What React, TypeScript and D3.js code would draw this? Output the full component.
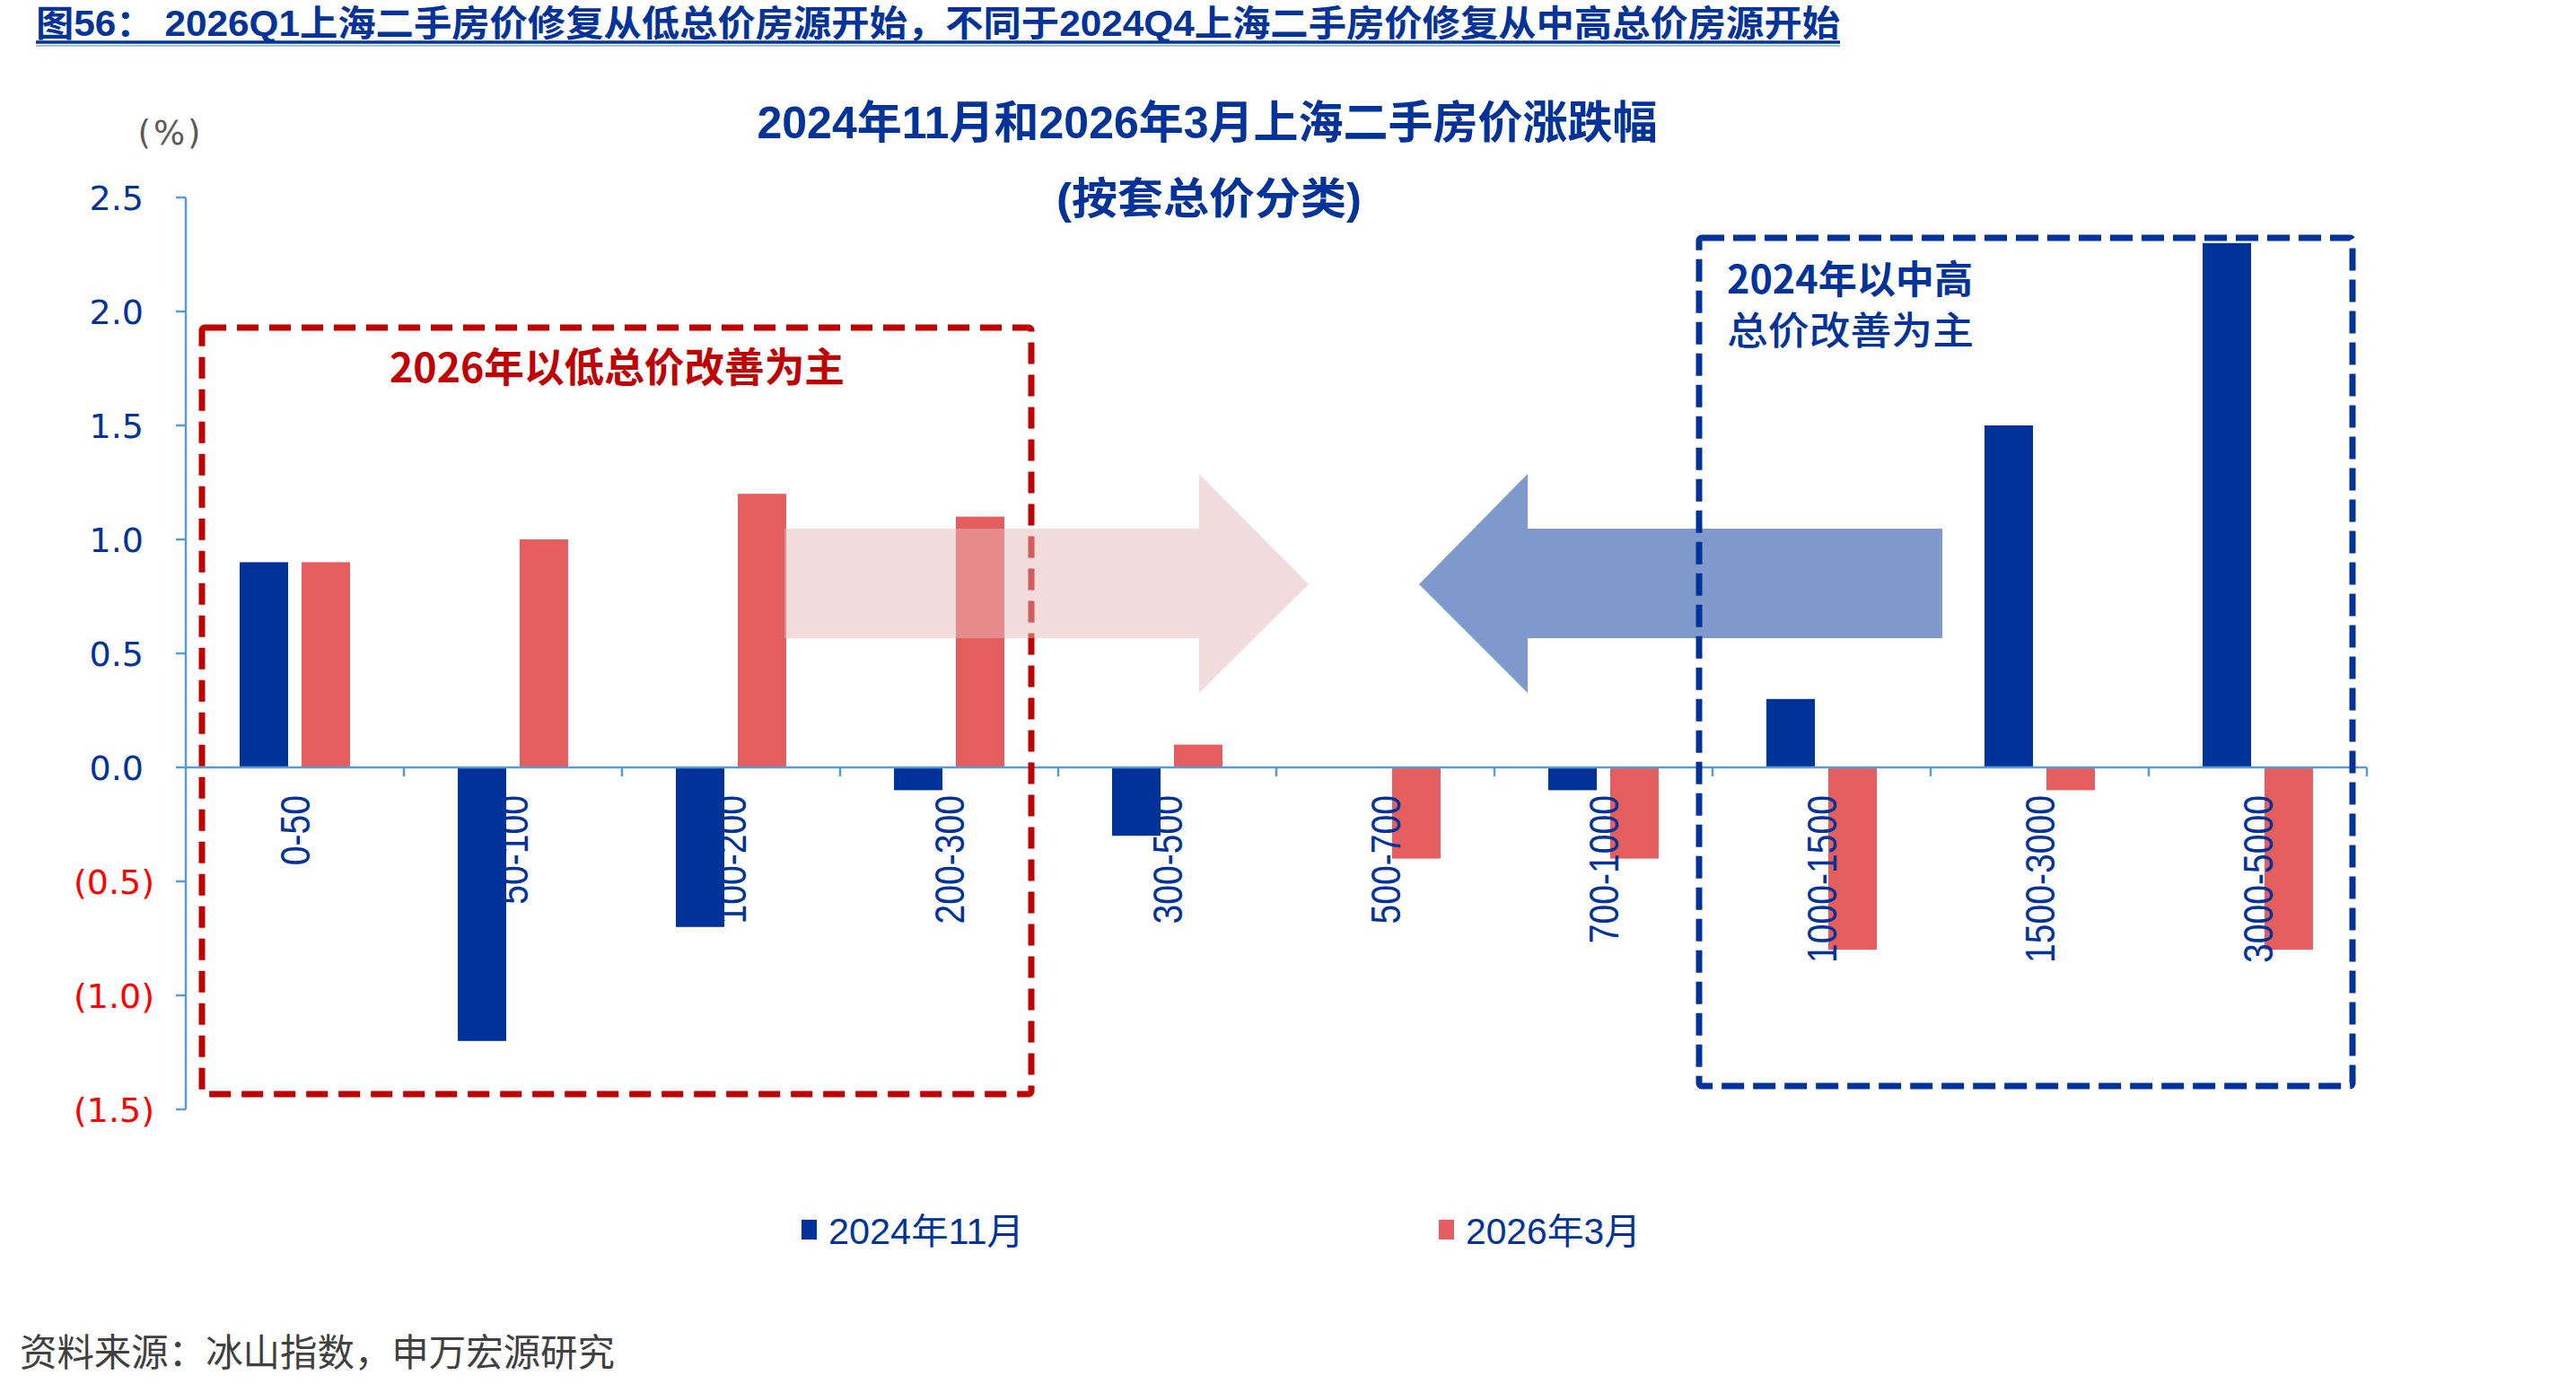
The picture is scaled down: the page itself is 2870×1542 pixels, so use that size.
import * as d3 from "d3";
import React from "react";

const categories = ["0-50", "50-100", "100-200", "200-300", "300-500", "500-700", "700-1000", "1000-1500", "1500-3000", "3000-5000"];
const series = ["2024年11月", "2026年3月"];
const nov2024 = [0.9, -1.2, -0.7, -0.1, -0.3, 0, -0.1, 0.3, 1.5, 2.3];
const mar2026 = [0.9, 1.0, 1.2, 1.1, 0.1, -0.4, -0.4, -0.8, -0.1, -0.8];
const yTicks = [2.5, 2.0, 1.5, 1.0, 0.5, 0.0, -0.5, -1.0, -1.5];

const BLUE = "#003399";
const RED = "#E55E5F";
const AXIS = "#5B9BD5";
const CJK = "'Liberation Sans', 'Noto Sans CJK SC', sans-serif";

export default function App() {
  const W = 2870;
  const H = 1542;

  // scales
  const x0 = d3.scaleBand<string>().domain(categories).range([207, 2637]).padding(0);
  const bw = x0.bandwidth();
  const x1 = d3
    .scaleBand<string>()
    .domain(series)
    .range([bw * 0.247, bw * 0.753])
    .paddingInner(0.2174);
  const y = d3.scaleLinear().domain([-1.5, 2.5]).range([1236, 220]);
  const fmt = d3.format(".1f");

  const values = [nov2024, mar2026];
  const colors = [BLUE, RED];

  const bars = categories.flatMap((c, i) =>
    series.map((s, j) => {
      const v = values[j][i];
      return { c, s, v, color: colors[j] };
    })
  );

  return (
    <svg width={W} height={H} style={{ position: "absolute", left: 0, top: 0, background: "#fff" }}>
      {/* header */}
      <text x={40} y={40} fontFamily={CJK} fontWeight="bold" fontSize={40} fill={BLUE} textLength={2010} lengthAdjust="spacingAndGlyphs">
        图56：  2026Q1上海二手房价修复从低总价房源开始，不同于2024Q4上海二手房价修复从中高总价房源开始
      </text>
      <line x1={40} x2={2050} y1={47} y2={47} stroke={BLUE} strokeWidth={3.5} />
      <line x1={40} x2={2050} y1={51} y2={51} stroke={BLUE} strokeOpacity={0.45} strokeWidth={1.5} />

      {/* chart title */}
      <text x={1345} y={154} textAnchor="middle" fontFamily={CJK} fontWeight="bold" fontSize={50} fill={BLUE} textLength={1003} lengthAdjust="spacingAndGlyphs">
        2024年11月和2026年3月上海二手房价涨跌幅
      </text>
      <text x={1347} y={238} textAnchor="middle" fontFamily={CJK} fontWeight="bold" fontSize={48} fill={BLUE} textLength={340} lengthAdjust="spacingAndGlyphs">
        (按套总价分类)
      </text>

      {/* unit */}
      <text x={190} y={161} textAnchor="middle" fontFamily="'DejaVu Sans', sans-serif" fontSize={37} letterSpacing={3} fill="#595959">
        (%)
      </text>

      {/* blue arrow (under boxes) */}
      <polygon
        points="2164,589 1702,589 1702,528 1581,651 1702,772 1702,711 2164,711"
        fill={BLUE}
        fillOpacity={0.5}
      />

      {/* bars */}
      <g>
        {bars
          .filter((d) => d.v !== 0)
          .map((d) => (
            <rect
              key={d.c + d.s}
              x={(x0(d.c) as number) + (x1(d.s) as number)}
              y={y(Math.max(0, d.v))}
              width={x1.bandwidth()}
              height={Math.abs(y(d.v) - y(0))}
              fill={d.color}
            />
          ))}
      </g>

      {/* y axis */}
      <g>
        <line x1={207} x2={207} y1={y(2.5)} y2={y(-1.5)} stroke={AXIS} strokeWidth={2.5} />
        {yTicks.map((t) => (
          <g key={t}>
            <line x1={196} x2={207} y1={y(t)} y2={y(t)} stroke={AXIS} strokeWidth={2.5} />
            <text
              x={t < 0 ? 172 : 160}
              y={y(t)}
              dy="0.36em"
              textAnchor="end"
              fontFamily="'DejaVu Sans', sans-serif"
              fontSize={38}
              fill={t < 0 ? "#FF0000" : BLUE}
            >
              {t < 0 ? `(${fmt(-t)})` : fmt(t)}
            </text>
          </g>
        ))}
      </g>

      {/* x axis */}
      <g>
        <line x1={207} x2={2637} y1={y(0)} y2={y(0)} stroke={AXIS} strokeWidth={2.5} />
        {categories.slice(1).map((c) => (
          <line key={c} x1={x0(c) as number} x2={x0(c) as number} y1={y(0)} y2={y(0) + 10} stroke={AXIS} strokeWidth={2.5} />
        ))}
        <line x1={2637} x2={2637} y1={y(0)} y2={y(0) + 10} stroke={AXIS} strokeWidth={2.5} />
        {categories.map((c) => (
          <text
            key={c}
            transform={`translate(${(x0(c) as number) + bw / 2},886) rotate(-90) scale(0.85,1)`}
            textAnchor="end"
            dy="0.36em"
            fontFamily="'Liberation Sans', Arial, sans-serif"
            fontSize={46}
            fill={BLUE}
          >
            {c}
          </text>
        ))}
      </g>

      {/* dashed boxes */}
      <rect x={225} y={365} width={924} height={854} rx={3} fill="none" stroke="#C00000" strokeWidth={7} strokeDasharray="24 12" />
      <rect x={1893} y={265} width={728} height={945} rx={3} fill="none" stroke={BLUE} strokeWidth={7} strokeDasharray="25 10" />

      {/* pink arrow (over red box) */}
      <polygon
        points="874,589 1336,589 1336,528 1458,651 1336,772 1336,711 874,711"
        fill="#E6B8B7"
        fillOpacity={0.5}
      />

      {/* annotations */}
      <text x={434} y={426} fontFamily="'Noto Sans CJK SC', sans-serif" fontWeight="bold" fontSize={45} fill="#C00000" textLength={507} lengthAdjust="spacingAndGlyphs">
        2026年以低总价改善为主
      </text>
      <text x={1924} y={327} fontFamily="'Noto Sans CJK SC', sans-serif" fontWeight="bold" fontSize={43} fill={BLUE} textLength={274} lengthAdjust="spacingAndGlyphs">
        2024年以中高
      </text>
      <text x={1924} y={384} fontFamily="'Noto Sans CJK SC', sans-serif" fontWeight={500} fontSize={43} fill={BLUE} textLength={275} lengthAdjust="spacingAndGlyphs">
        总价改善为主
      </text>

      {/* legend */}
      {series.map((s, j) => {
        const lx = j === 0 ? 893 : 1603;
        return (
          <g key={s}>
            <rect x={lx} y={1359} width={17} height={22} fill={colors[j]} />
            <text x={lx + 30} y={1386} fontFamily={CJK} fontSize={40} fill={BLUE} textLength={j === 0 ? 218 : 195} lengthAdjust="spacingAndGlyphs">
              {s}
            </text>
          </g>
        );
      })}

      {/* source */}
      <text x={22} y={1522} fontFamily="'Noto Sans CJK SC', sans-serif" fontSize={42} fill="#404040" textLength={663} lengthAdjust="spacingAndGlyphs">
        资料来源：冰山指数，申万宏源研究
      </text>
    </svg>
  );
}
